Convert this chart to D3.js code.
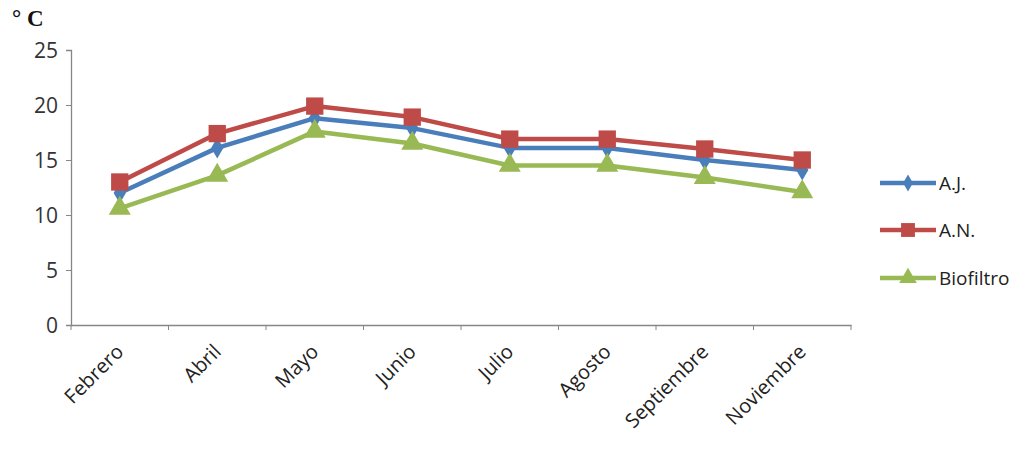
<!DOCTYPE html>
<html><head><meta charset="utf-8">
<script src="https://cdn.jsdelivr.net/npm/d3@7"></script>
<style>body{margin:0;background:#fff}svg{display:block}</style>
</head><body>
<svg id="c" width="1033" height="449"></svg>
<script>
const months = ["Febrero","Abril","Mayo","Junio","Julio","Agosto","Septiembre","Noviembre"];
const seriesNames = ["A.J.","A.N.","Biofiltro"];
const ajValues = [12.0,16.1,18.8,17.9,16.1,16.1,15.0,14.1];
const anValues = [13.0,17.4,19.9,18.9,16.9,16.9,16.0,15.0];
const bioValues = [10.6,13.6,17.6,16.5,14.5,14.5,13.4,12.1];
const yTicks = [0,5,10,15,20,25];
const colors = ["#4a7ebb","#be4b48","#98b954"];
const markers = ["diamond","square","triangle"];
const allValues = [ajValues, anValues, bioValues];

const svg = d3.select("#c");
const x = d3.scaleBand().domain(months).range([71,851]);
const y = d3.scaleLinear().domain([0,25]).range([325,50]);
const font = "'Open Sans', 'Liberation Sans', sans-serif";

// y axis
const ya = svg.append("g").attr("transform","translate(71,0)")
  .call(d3.axisLeft(y).tickValues(yTicks).tickSize(5).tickPadding(8));
ya.select(".domain").attr("stroke","#868686").attr("stroke-width",1.3);
ya.selectAll(".tick line").attr("stroke","#868686");
ya.selectAll("text").attr("font-family",font).attr("font-size",21).attr("fill","#333").attr("dy","0.35em");

// x axis
const xa = svg.append("g").attr("transform","translate(0,325)")
  .call(d3.axisBottom(x).tickSize(0).tickSizeOuter(0).tickPadding(0));
xa.select(".domain").attr("stroke","#868686").attr("stroke-width",1.3);
xa.selectAll(".tick line").remove();
const bounds = months.map(m=>x(m)).concat([x.range()[1]]);
xa.selectAll(".bt").data(bounds).enter().append("line")
  .attr("x1",d=>d).attr("x2",d=>d).attr("y1",0).attr("y2",5).attr("stroke","#868686");
xa.selectAll(".tick text").attr("font-family",font).attr("font-size",20).attr("fill","#222")
  .attr("text-anchor","end").attr("dy",0)
  .attr("transform","translate(5,28) rotate(-45)");

// unit label
svg.append("text").attr("x",12).attr("y",26).attr("font-family","'Liberation Serif', serif")
  .attr("font-weight","bold").attr("font-size",23).attr("fill","#111").text("° C");

const cx = m => x(m) + x.bandwidth()/2;
const line = d3.line().x((d,i)=>cx(months[i])).y(d=>y(d));
const sym = {
  diamond: d3.symbol().type(d3.symbolDiamond).size(130),
  square: d3.symbol().type(d3.symbolSquare).size(300),
  triangle: d3.symbol().type(d3.symbolTriangle).size(210)
};

allValues.forEach((vals,si)=>{
  svg.append("path").datum(vals).attr("d",line).attr("fill","none")
    .attr("stroke",colors[si]).attr("stroke-width",4.5).attr("stroke-linejoin","round");
});
allValues.forEach((vals,si)=>{
  svg.selectAll(".m"+si).data(vals).enter().append("path")
    .attr("d",sym[markers[si]])
    .attr("transform",(d,i)=>`translate(${cx(months[i])},${y(d)})`)
    .attr("fill",colors[si]);
});

// legend
const legY = [183,230,278];
seriesNames.forEach((n,i)=>{
  const g = svg.append("g").attr("transform",`translate(880,${legY[i]})`);
  g.append("line").attr("x1",0).attr("x2",56).attr("stroke",colors[i]).attr("stroke-width",4.5);
  g.append("path").attr("d",sym[markers[i]]).attr("transform","translate(28,0) scale(0.8)").attr("fill",colors[i]);
  g.append("text").attr("x",59).attr("y",0).attr("dy","0.35em").attr("font-family",font)
    .attr("font-size",19).attr("fill","#222").text(n);
});
</script>
</body></html>
